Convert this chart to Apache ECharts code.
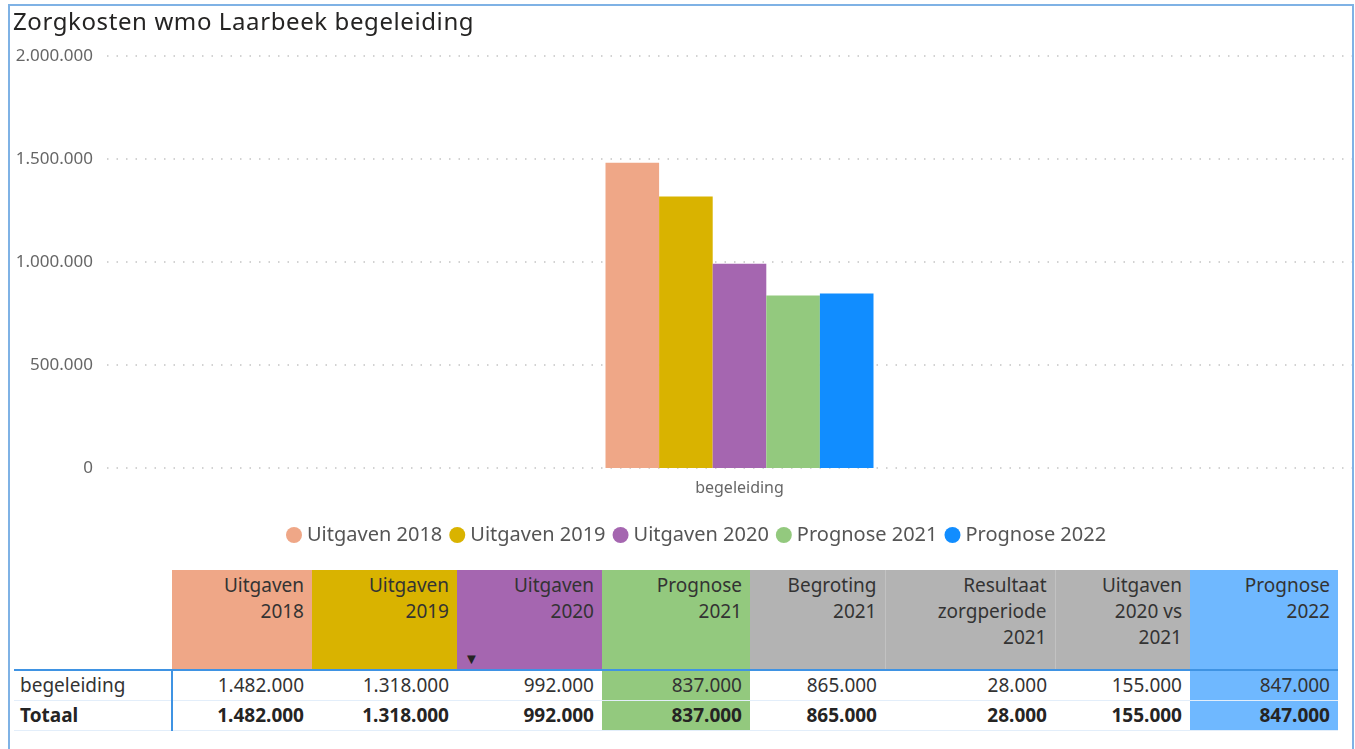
<!DOCTYPE html>
<html>
<head>
<meta charset="utf-8">
<script src="https://cdn.jsdelivr.net/npm/echarts@6/dist/echarts.min.js"></script>
<style>
  body { margin: 0; width: 1355px; height: 749px; background: #fff; overflow: hidden; font-family: "Noto Sans", sans-serif; }
  .frame { position: absolute; left: 8px; top: 4px; width: 1342px; height: 800px; border: 2px solid #7fb2e5; pointer-events: none; z-index: 5; }
  .title { position: absolute; left: 13px; top: 4px; font-size: 24px; letter-spacing: 0.6px; color: #252423; z-index: 4; }
  .clip { position: absolute; left: 0; top: 0; width: 1352px; height: 560px; overflow: hidden; }
  #chart { position: absolute; left: 0; top: 0; width: 1390px; height: 560px; }
  table.grid { position: absolute; left: 14px; top: 570px; border-collapse: collapse; table-layout: fixed; font-size: 19px; color: #333; }
  table.grid th { font-weight: normal; text-align: right; vertical-align: top; height: 97px; padding: 2px 8px 0 0; line-height: 26px; position: relative; }
  table.grid th.grey + th.grey { border-left: 1px solid #c2c2c2; }
  table.grid td { text-align: right; padding: 0 8px 0 0; height: 29px; line-height: 29px; }
  table.grid tbody tr:first-child td { border-top: 2px solid #3f93e3; }
  table.grid tbody tr.tot td { font-weight: bold; color: #252423; border-top: 1px solid #e3eefa; border-bottom: 1px solid #e3eefa; }
  table.grid td.rh { text-align: left; padding-left: 6px; border-right: 2px solid #3f93e3; }
  .tri { position: absolute; left: 7px; bottom: 3px; font-size: 15px; color: #252423; line-height: 15px; }
</style>
</head>
<body>
<div class="frame"></div>
<div class="title">Zorgkosten wmo Laarbeek begeleiding</div>
<div class="clip"><div id="chart"></div></div>
<table class="grid" id="tbl"></table>
<script>
const categories = ['begeleiding']
const seriesNames = ['Uitgaven 2018', 'Uitgaven 2019', 'Uitgaven 2020', 'Prognose 2021', 'Prognose 2022']
const seriesValues = [1482000, 1318000, 992000, 837000, 847000]
const seriesColors = ['#efa787', '#d9b300', '#a566b0', '#93c97e', '#118dff']
const yTicks = [0, 500000, 1000000, 1500000, 2000000]

// tabel onder de grafiek
const tableHeaders = ['Uitgaven<br>2018', 'Uitgaven<br>2019', 'Uitgaven<br>2020', 'Prognose<br>2021', 'Begroting<br>2021', 'Resultaat<br>zorgperiode<br>2021', 'Uitgaven<br>2020 vs<br>2021', 'Prognose<br>2022']
const tableRow = [1482000, 1318000, 992000, 837000, 865000, 28000, 155000, 847000]
const tableTotal = [1482000, 1318000, 992000, 837000, 865000, 28000, 155000, 847000]
const headerColors = ['#efa787', '#d9b300', '#a566b0', '#93c97e', '#b3b3b3', '#b3b3b3', '#b3b3b3', '#6fb8ff']
const bodyColors = ['', '', '', '#93c97e', '', '', '', '#6fb8ff']
const colWidths = [158, 140, 145, 145, 148, 135, 170, 135, 148]

const fmt = (v) => String(v).replace(/\B(?=(\d{3})+(?!\d))/g, '.')

const chart = echarts.init(document.getElementById('chart'))
chart.setOption({
  animation: false,
  // grid loopt iets voorbij de rand, zodat de balkengroep op dezelfde plek staat
  grid: { left: 107, right: 18, top: 56, bottom: 92 },
  legend: {
    left: 281,
    top: 520,
    icon: 'circle',
    itemWidth: 16,
    itemHeight: 16,
    itemGap: 7,
    textStyle: { fontSize: 20, color: '#555', fontFamily: 'Noto Sans' },
    data: seriesNames
  },
  xAxis: {
    type: 'category',
    data: categories,
    axisLine: { show: false },
    axisTick: { show: false },
    axisLabel: { fontSize: 16, color: '#666', margin: 12, fontFamily: 'Noto Sans' }
  },
  yAxis: {
    type: 'value',
    min: yTicks[0],
    max: yTicks[yTicks.length - 1],
    interval: 500000,
    axisLabel: { formatter: fmt, fontSize: 17, color: '#666', margin: 14, fontFamily: 'Noto Sans' },
    splitLine: { lineStyle: { type: [1.5, 8], color: '#c4c4c4', width: 1.5 } }
  },
  series: seriesNames.map((name, i) => ({
    name: name,
    type: 'bar',
    data: [seriesValues[i]],
    barWidth: 53.6,
    barGap: '0%',
    itemStyle: { color: seriesColors[i] }
  }))
})

// tabel opbouwen
let html = '<colgroup>' + colWidths.map((w) => `<col style="width:${w}px">`).join('') + '</colgroup>'
html += '<thead><tr><th></th>' + tableHeaders.map((h, i) =>
  `<th class="${headerColors[i] === '#b3b3b3' ? 'grey' : ''}" style="background:${headerColors[i]}">${h}${i === 2 ? '<span class="tri">▼</span>' : ''}</th>`).join('') + '</tr></thead>'
html += '<tbody><tr><td class="rh">begeleiding</td>' + tableRow.map((v, i) =>
  `<td style="background:${bodyColors[i] || 'transparent'}">${fmt(v)}</td>`).join('') + '</tr>'
html += '<tr class="tot"><td class="rh">Totaal</td>' + tableTotal.map((v, i) =>
  `<td style="background:${bodyColors[i] || 'transparent'}">${fmt(v)}</td>`).join('') + '</tr></tbody>'
document.getElementById('tbl').innerHTML = html
</script>
</body>
</html>
